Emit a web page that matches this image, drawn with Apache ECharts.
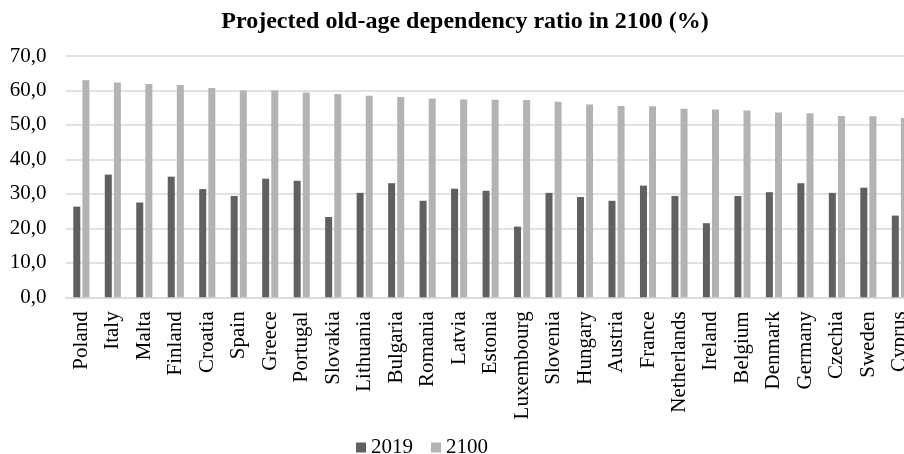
<!DOCTYPE html>
<html>
<head>
<meta charset="utf-8">
<script src="https://cdn.jsdelivr.net/npm/echarts@6/dist/echarts.min.js"></script>
<style>
html,body{margin:0;padding:0;background:#fff;}
#chart{width:904px;height:454px;}
</style>
</head>
<body>
<div id="chart"></div>
<script>
const categories = ['Poland','Italy','Malta','Finland','Croatia','Spain','Greece','Portugal','Slovakia','Lithuania','Bulgaria','Romania','Latvia','Estonia','Luxembourg','Slovenia','Hungary','Austria','France','Netherlands','Ireland','Belgium','Denmark','Germany','Czechia','Sweden','Cyprus'];
const values2019 = [26.3,35.6,27.5,35.0,31.4,29.4,34.4,33.8,23.3,30.3,33.1,28.0,31.5,30.9,20.5,30.3,29.1,28.0,32.4,29.4,21.5,29.4,30.5,33.1,30.3,31.8,23.7];
const values2100 = [63.0,62.3,61.9,61.6,60.7,60.0,60.0,59.4,59.0,58.5,58.1,57.7,57.4,57.3,57.2,56.7,55.9,55.5,55.4,54.7,54.5,54.2,53.6,53.4,52.6,52.5,52.0];
const yTickLabels = ['0,0','10,0','20,0','30,0','40,0','50,0','60,0','70,0'];
const seriesNames = ['2019','2100'];

const serif = '"Liberation Serif","Times New Roman",serif';
const chart = echarts.init(document.getElementById('chart'));
chart.setOption({
  animation: false,
  backgroundColor: '#fff',
  title: {
    text: 'Projected old-age dependency ratio in 2100 (%)',
    left: 465,
    textAlign: 'center',
    top: 10,
    padding: 0,
    textStyle: {fontFamily: serif, fontSize: 24, fontWeight: 'bold', color: '#000'}
  },
  legend: {
    data: seriesNames,
    left: 356,
    top: 437,
    padding: 0,
    itemWidth: 10,
    itemHeight: 10,
    itemGap: 18,
    icon: 'rect',
    textStyle: {fontFamily: serif, fontSize: 21, color: '#000'}
  },
  grid: {left: 65.6, width: 850, top: 56, bottom: 156.7, containLabel: false, outerBoundsMode: 'none'},
  xAxis: {
    type: 'category',
    data: categories,
    axisTick: {show: false},
    axisLine: {lineStyle: {color: '#d9d9d9', width: 1.5}},
    axisLabel: {rotate: 90, interval: 0, margin: 14, fontFamily: serif, fontSize: 21, color: '#000'}
  },
  yAxis: {
    type: 'value',
    min: 0, max: 70, interval: 10,
    axisLine: {show: false},
    axisTick: {show: false},
    splitLine: {lineStyle: {color: '#d9d9d9', width: 1.5}},
    axisLabel: {
      margin: 19, fontFamily: serif, fontSize: 21, color: '#000',
      formatter: function (v) { return yTickLabels[Math.round(v / 10)]; }
    }
  },
  series: [
    {name: seriesNames[0], type: 'bar', data: values2019, barWidth: 7, barGap: '30%', itemStyle: {color: '#606060'}},
    {name: seriesNames[1], type: 'bar', data: values2100, barWidth: 7, barGap: '30%', itemStyle: {color: '#b3b3b3'}}
  ]
});
</script>
</body>
</html>
